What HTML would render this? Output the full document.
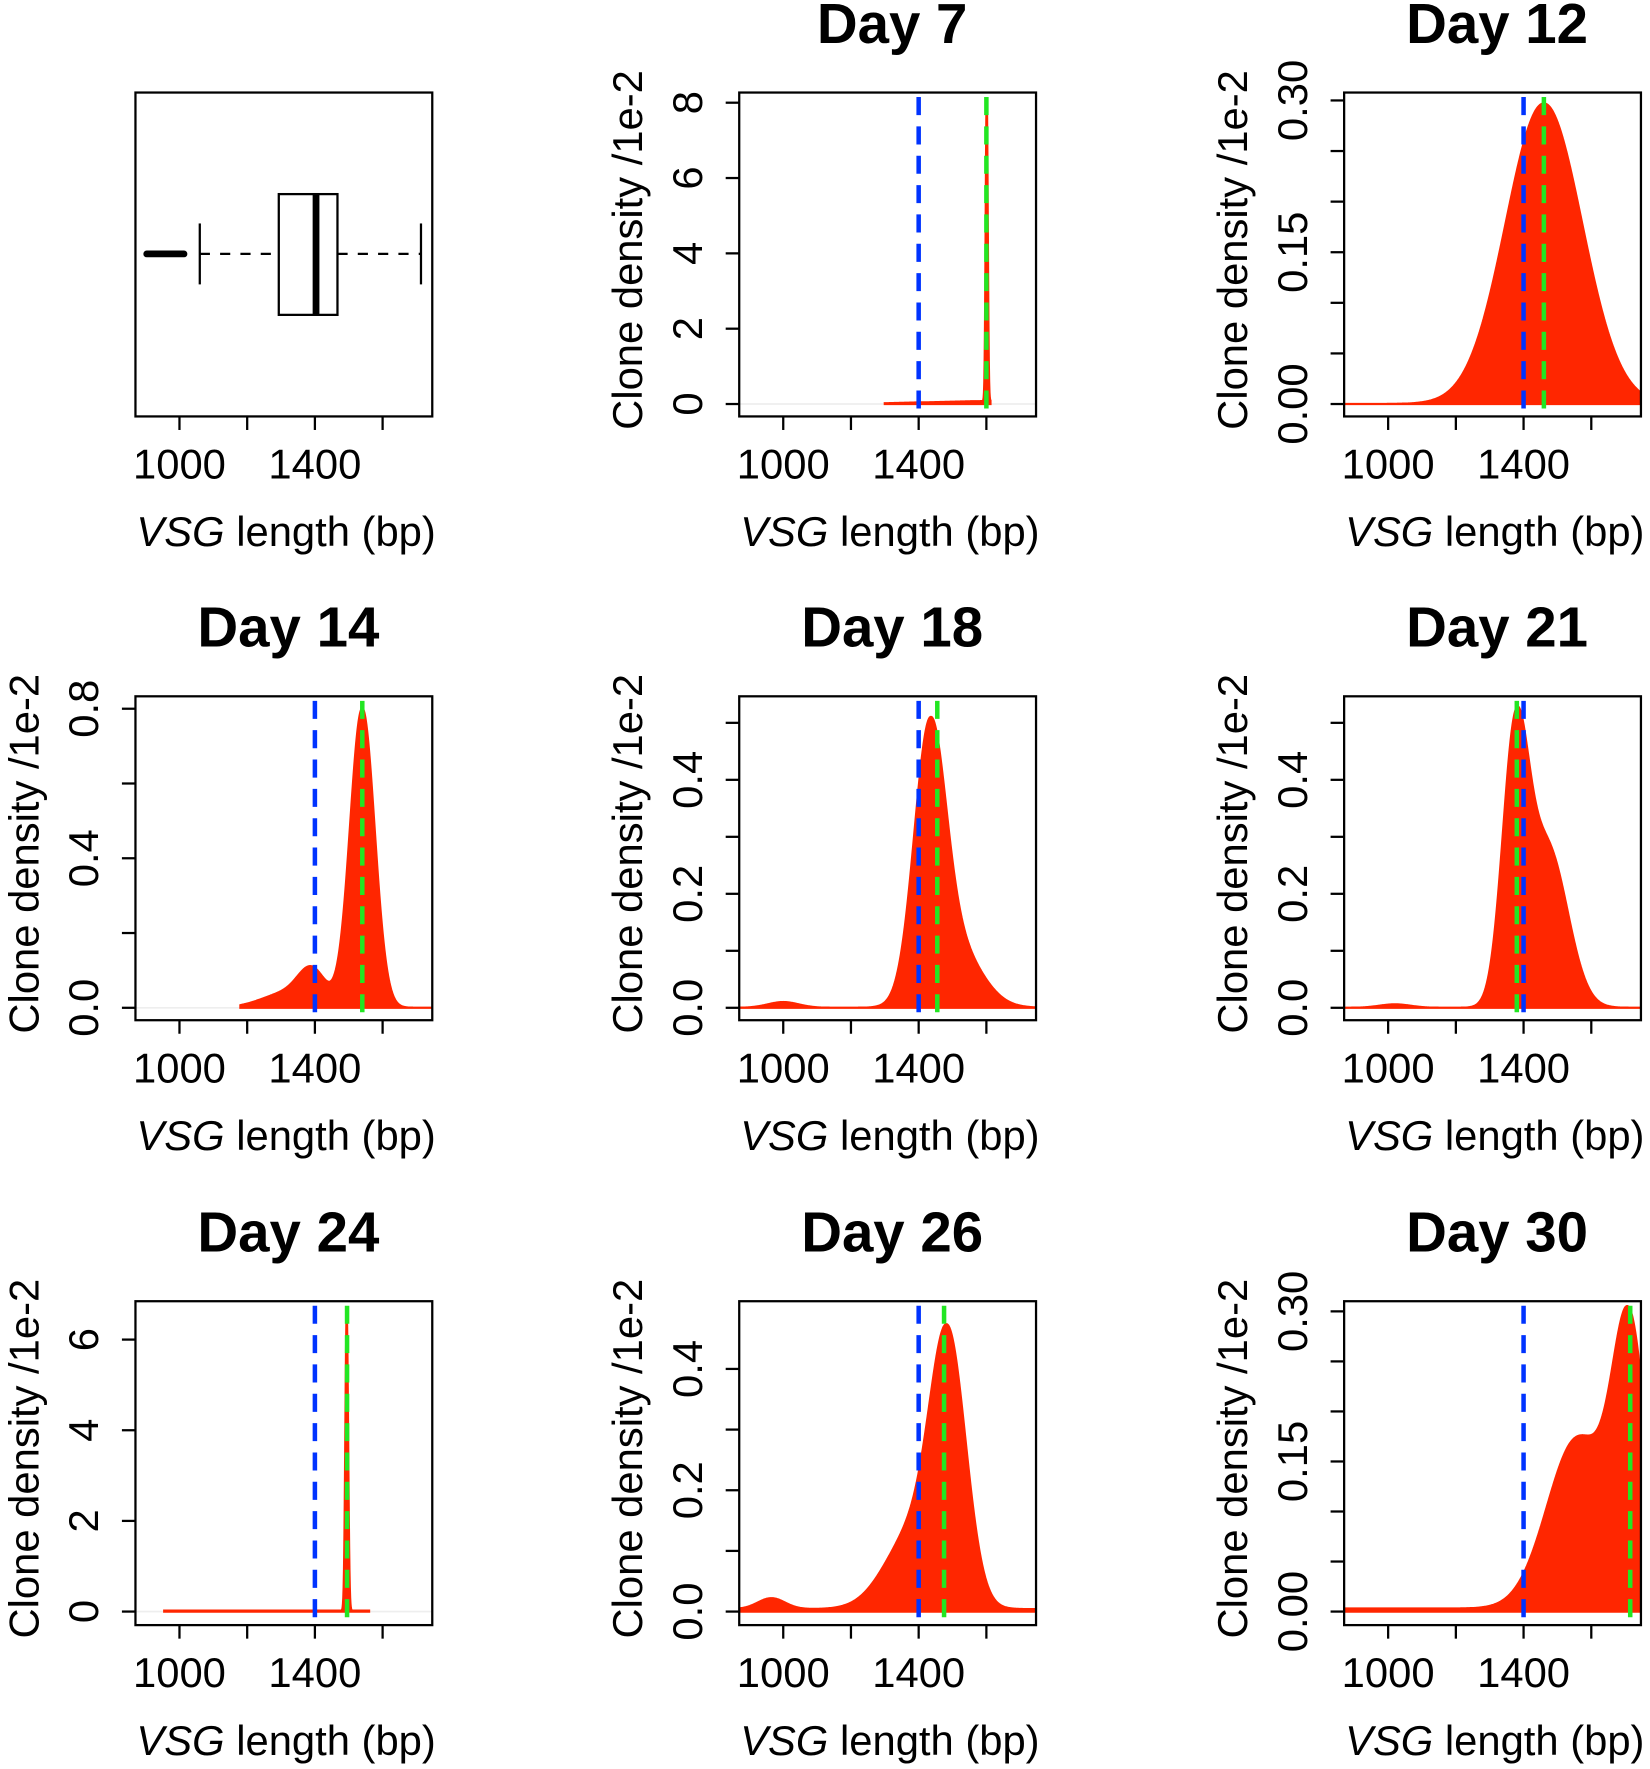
<!DOCTYPE html>
<html><head><meta charset="utf-8"><style>html,body{margin:0;padding:0;background:#fff}svg{display:block}</style></head>
<body>
<svg id="s" xmlns="http://www.w3.org/2000/svg" width="1650" height="1769" viewBox="0 0 1462 1567.5" font-family="Liberation Sans, sans-serif"></svg>
<script>
const S=document.getElementById('s');let h='';
const g=(x,m,s)=>Math.exp(-0.5*((x-m)/s)**2);
const cols=[120,655,1191],rows=[82,617,1153],W=263,H=287;
function xaxis(L,T){
  const B=T+H;const xp=v=>L+39+(v-1000)*0.3;
  h+=`<rect x="${L}" y="${T}" width="${W}" height="${H}" fill="none" stroke="#000" stroke-width="2"/>`;
  [1000,1200,1400,1600].forEach(v=>{h+=`<line x1="${xp(v)}" y1="${B}" x2="${xp(v)}" y2="${B+12}" stroke="#000" stroke-width="2"/>`});
  h+=`<text x="${xp(1000)}" y="${B+55}" font-size="37" text-anchor="middle">1000</text><text x="${xp(1400)}" y="${B+55}" font-size="37" text-anchor="middle">1400</text>`;
  h+=`<text x="${L+W/2+2}" y="${B+115}" font-size="37" text-anchor="middle"><tspan font-style="italic">VSG</tspan> length (bp)</text>`;
}
(function(){const L=120,T=82;xaxis(L,T);
 h+=`<line x1="177" y1="225" x2="247" y2="225" stroke="#000" stroke-width="2" stroke-dasharray="9,9"/><line x1="299" y1="225" x2="373" y2="225" stroke="#000" stroke-width="2" stroke-dasharray="9,9"/>`;
 h+=`<line x1="177" y1="198" x2="177" y2="252" stroke="#000" stroke-width="2"/><line x1="373" y1="198" x2="373" y2="252" stroke="#000" stroke-width="2"/>`;
 h+=`<rect x="247" y="172" width="52" height="107" fill="#fff" stroke="#000" stroke-width="2"/><line x1="280" y1="172" x2="280" y2="279" stroke="#000" stroke-width="6"/>`;
 h+=`<line x1="130" y1="225" x2="163" y2="225" stroke="#000" stroke-width="6" stroke-linecap="round"/>`;
})();
const P=[
 {c:1,r:0,t:'Day 7',z:358,u:(358-91)/8,ticks:[0,2,4,6,8],lab:[0,2,4,6,8],dig:0,b:1400,gr:1600,x0:1300,x1:1612,f:x=>0.02+(x-1300)*0.0002+8*g(x,1601,3)},
 {c:2,r:0,t:'Day 12',z:358,u:(358-89)/0.3,ticks:[0,.05,.1,.15,.2,.25,.3],lab:[0,.15,.3],dig:2,b:1400,gr:1460,x0:870,x1:1750,f:x=>0.297*g(x,1460,112)},
 {c:0,r:1,t:'Day 14',z:893,u:(893-628)/0.8,ticks:[0,.2,.4,.6,.8],lab:[0,.4,.8],dig:1,b:1400,gr:1540,x0:1180,x1:1750,f:x=>0.8*g(x,1540,36)+0.085*g(x,1392,40)+0.04*g(x,1320,75)},
 {c:1,r:1,t:'Day 18',z:893,u:(893-691)/0.4,ticks:[0,.1,.2,.3,.4,.5],lab:[0,.2,.4],dig:1,b:1400,gr:1455,x0:870,x1:1750,f:x=>0.44*g(x,1432,46)+0.11*g(x,1505,75)+0.01*g(x,1000,45)},
 {c:2,r:1,t:'Day 21',z:893,u:(893-691)/0.4,ticks:[0,.1,.2,.3,.4,.5],lab:[0,.2,.4],dig:1,b:1400,gr:1380,x0:870,x1:1750,f:x=>0.44*g(x,1375,38)+0.28*g(x,1470,60)+0.006*g(x,1020,45)},
 {c:0,r:2,t:'Day 24',z:1428,u:(1428-1187)/6,ticks:[0,2,4,6],lab:[0,2,4,6],dig:0,b:1400,gr:1495,x0:955,x1:1560,f:x=>0.02+6.5*g(x,1494,4)},
 {c:1,r:2,t:'Day 26',z:1428,u:(1428-1213)/0.4,ticks:[0,.1,.2,.3,.4],lab:[0,.2,.4],dig:1,b:1400,gr:1475,x0:870,x1:1750,f:x=>0.4*g(x,1488,52)+0.13*g(x,1390,85)+0.018*g(x,965,40)+0.004},
 {c:2,r:2,t:'Day 30',z:1428,u:(1428-1162)/0.3,ticks:[0,.05,.1,.15,.2,.25,.3],lab:[0,.15,.3],dig:2,b:1400,gr:1715,x0:870,x1:1750,f:x=>0.26*g(x,1714,50)+0.17*g(x,1560,90)+0.003}
];
P.forEach((p,i)=>{
 const L=cols[p.c],T=rows[p.r];const xp=v=>L+39+(v-1000)*0.3;const yp=v=>p.z-v*p.u;
 h+=`<clipPath id="c${i}"><rect x="${L}" y="${T}" width="${W}" height="${H}"/></clipPath>`;
 h+=`<text x="${L+W/2+4}" y="${T-44}" font-size="50" font-weight="bold" text-anchor="middle">${p.t}</text>`;
 h+=`<line x1="${L}" y1="${p.z}" x2="${L+W}" y2="${p.z}" stroke="#eee" stroke-width="1.5"/>`;
 let d=`M${xp(p.x0)},${p.z}`;for(let x=p.x0;x<=p.x1;x+=1){d+=`L${xp(x).toFixed(1)},${yp(p.f(x)).toFixed(1)}`}
 d+=`L${xp(p.x1)},${p.z}Z`;
 h+=`<g clip-path="url(#c${i})"><path d="${d}" fill="#ff2600" stroke="#ff2600" stroke-width="2"/>`;
 h+=`<line x1="${xp(p.b)}" y1="${T+4}" x2="${xp(p.b)}" y2="${T+H}" stroke="#0033ff" stroke-width="4" stroke-dasharray="16,10"/>`;
 h+=`<line x1="${xp(p.gr)}" y1="${T+4}" x2="${xp(p.gr)}" y2="${T+H}" stroke="#22e622" stroke-width="4" stroke-dasharray="16,10"/></g>`;
 xaxis(L,T);
 p.ticks.forEach(v=>{h+=`<line x1="${L}" y1="${yp(v)}" x2="${L-12}" y2="${yp(v)}" stroke="#000" stroke-width="2"/>`});
 p.lab.forEach(v=>{const y=yp(v),x=L-33;h+=`<text transform="translate(${x},${y}) rotate(-90)" font-size="37" text-anchor="middle">${v.toFixed(p.dig)}</text>`});
 h+=`<text transform="translate(${L-86},${T+H/2-4}) rotate(-90)" font-size="37" text-anchor="middle">Clone density /1e-2</text>`;
});
S.innerHTML=h;
</script>
</body></html>
